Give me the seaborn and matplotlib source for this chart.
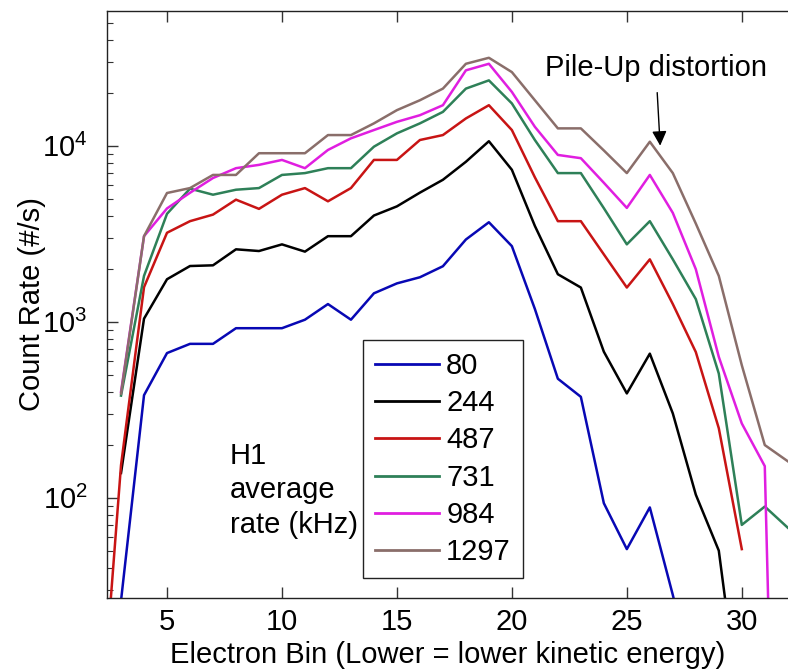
import numpy as np
import pandas as pd
import matplotlib
matplotlib.use("Agg")
import matplotlib.pyplot as plt
import seaborn as sns
from matplotlib.ticker import LogLocator, FixedLocator

# ---- data ----
rate_labels = ["80", "244", "487", "731", "984", "1297"]
colors = ["#0808b4", "#000000", "#c81414", "#2e8058", "#e01ee0", "#8a6e6a"]

bins_80 = list(range(3, 29))
vals_80 = [26, 382, 663, 748, 748, 918, 918, 918, 1026, 1259, 1026, 1449, 1650,
           1788, 2065, 2930, 3672, 2686, 1181, 474, 374, 93, 51, 88, 28, 8]

bins_244 = list(range(3, 31))
vals_244 = [138, 1040, 1742, 2071, 2090, 2577, 2520, 2749, 2500, 3060, 3060, 4010,
            4520, 5410, 6400, 8100, 10600, 7295, 3500, 1860, 1563, 675, 391, 658,
            301, 104, 50, 5]

bins_487 = list(range(2, 31))
vals_487 = [3, 153, 1570, 3200, 3724, 4058, 4935, 4375, 5265, 5742, 4830, 5742,
            8300, 8300, 10770, 11490, 14280, 16980, 12270, 6610, 3724, 3724, 2412,
            1563, 2260, 1259, 672, 248, 51]

bins_731 = list(range(3, 33))
vals_731 = [380, 1820, 4100, 5700, 5265, 5620, 5742, 6820, 6985, 7450, 7450, 9870,
            11750, 13390, 15560, 21100, 23500, 17380, 10770, 6985, 6985, 4415, 2750,
            3724, 2260, 1343, 507, 70, 89, 67.5]

bins_984 = list(range(3, 33))
vals_984 = [400, 3060, 4400, 5400, 6550, 7450, 7780, 8300, 7450, 9455, 11010, 12270,
            13660, 14900, 16980, 26800, 29200, 20200, 12800, 8860, 8490, 6155, 4430,
            6820, 4150, 1987, 631, 264, 151, 0.001]

bins_1297 = list(range(3, 33))
vals_1297 = [390, 3060, 5384, 5742, 6820, 6820, 9060, 9060, 9060, 11490, 11490, 13390,
             15920, 18120, 21100, 29200, 31580, 26190, 18120, 12540, 12540, 9395, 6985,
             10530, 6985, 3610, 1820, 566, 199, 161]

all_bins = [bins_80, bins_244, bins_487, bins_731, bins_984, bins_1297]
all_vals = [vals_80, vals_244, vals_487, vals_731, vals_984, vals_1297]

frames = []
for lab, b, v in zip(rate_labels, all_bins, all_vals):
    frames.append(pd.DataFrame({"bin": b, "rate": v, "H1": lab}))
df = pd.concat(frames, ignore_index=True)

# ---- figure ----
plt.rcParams["font.family"] = ["Liberation Sans", "DejaVu Sans"]
plt.rcParams["mathtext.default"] = "regular"
FS = 21

W, H = 788, 670
fig = plt.figure(figsize=(W / 100, H / 100), dpi=100)
ax = fig.add_axes([107 / W, 1 - 598 / H, (788 - 107) / W, (598 - 11) / H])

sns.lineplot(data=df, x="bin", y="rate", hue="H1", hue_order=rate_labels,
             palette=colors, linewidth=1.8, sort=False, estimator=None, ax=ax)

ax.set_yscale("log")
ax.set_xlim(2.39, 32.01)
ax.set_ylim(26.9, 58250)

ax.xaxis.set_major_locator(FixedLocator([5, 10, 15, 20, 25, 30]))
ax.yaxis.set_major_locator(LogLocator(base=10, numticks=10))
ax.yaxis.set_minor_locator(LogLocator(base=10, subs=np.arange(2, 10), numticks=20))

ax.tick_params(axis="both", which="both", direction="in", labelsize=FS, color="#333333")
ax.tick_params(axis="x", which="major", length=8, width=1, top=True, pad=7)
ax.tick_params(axis="y", which="major", length=8, width=1, right=False, pad=14)
ax.tick_params(axis="y", which="minor", length=4.5, width=0.8, right=False)
ax.tick_params(axis="x", which="minor", bottom=False, top=False)

for s in ["left", "bottom", "top"]:
    ax.spines[s].set_linewidth(1.0)
    ax.spines[s].set_color("#222222")
ax.spines["right"].set_visible(False)

ax.set_xlabel("Electron Bin (Lower = lower kinetic energy)", fontsize=FS, labelpad=4)
ax.set_ylabel("Count Rate (#/s)", fontsize=FS)
ax.yaxis.set_label_coords(-0.09, 0.5)

leg = ax.legend(loc="lower left", bbox_to_anchor=(0.376, 0.034), fontsize=FS,
                frameon=True, fancybox=False, edgecolor="#222222", framealpha=1,
                handlelength=2.2, handletextpad=0.25, labelspacing=0.32,
                borderpad=0.4, borderaxespad=0)
leg.get_frame().set_linewidth(1.0)
for ln in leg.get_lines():
    ln.set_linewidth(2.0)

ax.text(7.74, 110, "H1\naverage\nrate (kHz)", fontsize=FS, ha="left", va="center",
        linespacing=1.3)

ax.annotate("Pile-Up distortion", xy=(26.45, 10000), xytext=(26.26, 27800),
            fontsize=FS, ha="center", va="center",
            arrowprops=dict(arrowstyle="-|>", color="black", lw=1.0,
                            mutation_scale=22, shrinkA=6, shrinkB=0))

fig.savefig("out.png", dpi=100)
